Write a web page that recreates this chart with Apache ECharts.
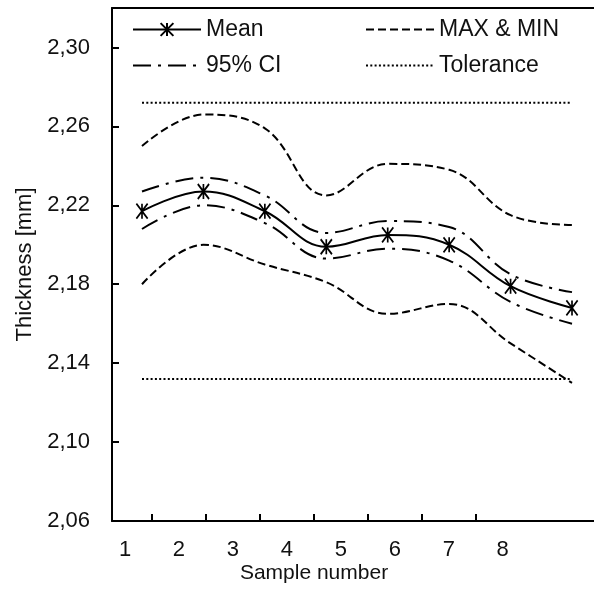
<!DOCTYPE html>
<html>
<head>
<meta charset="utf-8">
<script src="https://cdn.jsdelivr.net/npm/echarts@6/dist/echarts.min.js"></script>
<style>
html,body{margin:0;padding:0;background:#fff;}
#chart{width:594px;height:590px;}
</style>
</head>
<body>
<div id="chart"></div>
<script>
const categories = [1, 2, 3, 4, 5, 6, 7, 8];
const meanValues = [2.217, 2.227, 2.217, 2.199, 2.205, 2.200, 2.179, 2.168];
const maxValues  = [2.250, 2.266, 2.259, 2.225, 2.241, 2.238, 2.215, 2.210];
const minValues  = [2.180, 2.200, 2.190, 2.181, 2.165, 2.170, 2.150, 2.130];
const ciUpper    = [2.227, 2.234, 2.225, 2.206, 2.212, 2.209, 2.185, 2.176];
const ciLower    = [2.208, 2.220, 2.211, 2.193, 2.198, 2.192, 2.171, 2.160];
const tolUpper   = [2.272, 2.272, 2.272, 2.272, 2.272, 2.272, 2.272, 2.272];
const tolLower   = [2.132, 2.132, 2.132, 2.132, 2.132, 2.132, 2.132, 2.132];
const yTicks = [2.06, 2.10, 2.14, 2.18, 2.22, 2.26, 2.30];
const xTickMarks = [1.5, 2.5, 3.5, 4.5, 5.5, 6.5, 7.5];

const FONT = 'Liberation Sans, Arial, sans-serif';
const pair = vals => categories.map((c, i) => [c, vals[i]]);
const STAR = 'path://M0,0 L13,15 M13,0 L0,15 M6.5,0 L6.5,15';

function lineSeries(name, vals, dash, extra) {
  return Object.assign({
    type: 'line', name: name, xAxisIndex: 0, yAxisIndex: 0,
    data: pair(vals), smooth: 0.4, symbol: 'none',
    lineStyle: { color: '#000', width: 2, type: dash },
    itemStyle: { color: '#000' },
    emphasis: { disabled: true }, silent: true, animation: false
  }, extra || {});
}

const hidden = { opacity: 0 };
const chart = echarts.init(document.getElementById('chart'), null, { renderer: 'canvas' });
chart.setOption({
  backgroundColor: '#fff',
  animation: false,
  grid: { left: 112, top: 8, right: 0, height: 513, containLabel: false },
  xAxis: [
    { type: 'value', min: 0.5116, max: 8.358, show: false },
    { type: 'value', position: 'bottom', min: 0.759, max: 9.692,
      axisLine: { show: true, lineStyle: { color: '#000', width: 2 } },
      axisTick: { show: true, inside: true, length: 7, customValues: xTickMarks, lineStyle: { color: '#000', width: 2 } },
      axisLabel: { customValues: categories, margin: 18, color: '#111', fontSize: 22, fontFamily: FONT },
      splitLine: { show: false } },
    { type: 'value', position: 'top', min: 0, max: 1,
      axisLine: { show: true, lineStyle: { color: '#000', width: 2 } },
      axisTick: { show: false }, axisLabel: { show: false }, splitLine: { show: false } }
  ],
  yAxis: [{
    type: 'value', min: 2.06, max: 2.32,
    name: 'Thickness [mm]', nameLocation: 'middle', nameGap: 76, nameRotate: 90,
    nameTextStyle: { color: '#111', fontSize: 22, fontFamily: FONT },
    axisLine: { show: true, lineStyle: { color: '#000', width: 2 } },
    axisTick: { show: true, inside: true, length: 7, customValues: yTicks, lineStyle: { color: '#000', width: 2 } },
    axisLabel: { customValues: yTicks, margin: 22, color: '#111', fontSize: 22, fontFamily: FONT,
      formatter: v => v.toFixed(2).replace('.', ',') },
    splitLine: { show: false }
  }],
  legend: [
    { orient: 'vertical', left: 132, top: 18, padding: 0, itemWidth: 68, itemHeight: 16, itemGap: 13,
      selectedMode: false,
      data: ['Mean', { name: '95% CI', itemStyle: hidden }],
      textStyle: { color: '#111', fontSize: 23, fontFamily: FONT } },
    { orient: 'vertical', left: 365, top: 18, padding: 0, itemWidth: 68, itemHeight: 16, itemGap: 13,
      selectedMode: false,
      data: [{ name: 'MAX & MIN', itemStyle: hidden }, { name: 'Tolerance', itemStyle: hidden }],
      textStyle: { color: '#111', fontSize: 23, fontFamily: FONT } }
  ],
  graphic: [{
    type: 'text', x: 314, y: 573,
    style: { text: 'Sample number', fill: '#111', font: '21px ' + FONT, textAlign: 'center', textVerticalAlign: 'middle' }
  }],
  series: [
    lineSeries('Tolerance', tolUpper, [2, 2.3], { smooth: false }),
    lineSeries('Tolerance', tolLower, [2, 2.3], { smooth: false }),
    lineSeries('MAX & MIN', maxValues, [8, 4]),
    lineSeries('MAX & MIN', minValues, [8, 4]),
    lineSeries('95% CI', ciUpper, [18, 7, 3, 7]),
    lineSeries('95% CI', ciLower, [18, 7, 3, 7]),
    lineSeries('Mean', meanValues, 'solid', {
      symbol: STAR, symbolSize: [13, 15], symbolKeepAspect: true, showSymbol: true, showAllSymbol: true,
      itemStyle: { color: '#000', borderColor: '#000', borderWidth: 1.8 }
    })
  ]
});
</script>
</body>
</html>
